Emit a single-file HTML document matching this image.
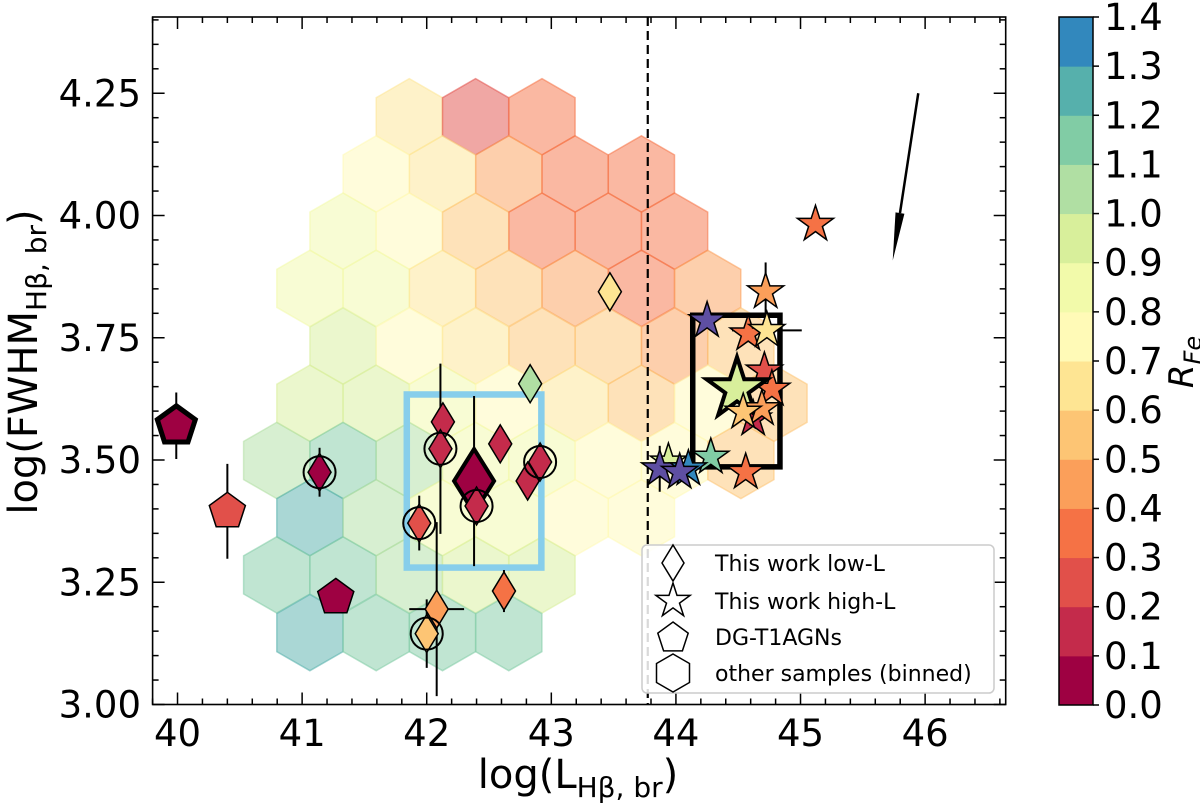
<!DOCTYPE html>
<html><head><meta charset="utf-8"><style>
html,body{margin:0;padding:0;background:#fff;}
svg{display:block;font-family:"DejaVu Sans","Liberation Sans",sans-serif;}
</style></head><body>
<svg id="chart" width="1200" height="804" viewBox="0 0 1200 804" xmlns="http://www.w3.org/2000/svg">
<g id="plot"></g>
<g id="axes"></g>
<g id="legend"></g>
<g id="cbar"></g>
</svg>
<script>
// ---- hexbin data (other samples, binned) ----
const hexCol = [4,6,8, 3,5,7,9,11, 2,4,6,8,10,12, 1,3,5,7,9,11,13, 2,4,6,8,10,12,14,
 1,3,5,7,9,11,13,15, 0,2,4,6,8,10,12,14, 1,3,5,7,9,11, 0,2,4,6,8, 1,3,5,7];
const hexY = [4.202,4.202,4.202, 4.085,4.085,4.085,4.085,4.085,
 3.968,3.968,3.968,3.968,3.968,3.968,
 3.851,3.851,3.851,3.851,3.851,3.851,3.851,
 3.733,3.733,3.733,3.733,3.733,3.733,3.733,
 3.616,3.616,3.616,3.616,3.616,3.616,3.616,3.616,
 3.499,3.499,3.499,3.499,3.499,3.499,3.499,3.499,
 3.382,3.382,3.382,3.382,3.382,3.382,
 3.265,3.265,3.265,3.265,3.265,
 3.147,3.147,3.147,3.147];
const hexV = [0.65,0.2,0.3, 0.75,0.6,0.45,0.3,0.3, 0.85,0.75,0.5,0.3,0.3,0.35,
 0.85,0.85,0.65,0.5,0.45,0.35,0.45, 0.95,0.75,0.65,0.55,0.55,0.45,0.55,
 0.9,0.95,0.8,0.75,0.65,0.55,0.75,0.5, 1.05,1.15,1.0,0.85,0.8,0.7,0.7,0.55,
 1.2,1.05,0.85,0.8,0.75,0.75, 1.15,1.1,1.05,0.95,0.9, 1.25,1.15,1.15,1.15];
const hexX0 = 40.796, hexDX = 0.2661;

// ---- low-L diamonds ----
const diaX = [42.83,42.13,42.11,42.59,42.38,42.40,42.81,42.91,41.94,41.14,42.62,42.08,42.00,43.47];
const diaY = [3.656,3.578,3.523,3.533,3.457,3.406,3.457,3.496,3.371,3.475,3.232,3.195,3.145,3.844];
const diaV = [1.0,0.1,0.1,0.1,0.02,0.1,0.1,0.1,0.2,0.05,0.35,0.45,0.5,0.65];
const diaYerr = [0,0,0.174,0,0.174,0,0,0.036,0.056,0.05,0.043,0.178,0.07,0];
const diaXerr = [0,0,0,0,0,0,0,0,0,0,0,0.22,0,0];
const diaCircled = [0,0,1,0,0,1,0,1,1,1,0,0,1,0];
const diaBig = [0,0,0,0,1,0,0,0,0,0,0,0,0,0];

// ---- DG-T1AGN pentagons ----
const penX = [39.99,40.40,41.27];
const penY = [3.570,3.395,3.219];
const penV = [0.05,0.2,0.05];
const penYerr = [0.068,0.097,0];
const penBig = [1,0,0];

// ---- high-L stars ----
const starX = [44.62,45.12,44.25,44.72,44.58,44.73,44.71,44.77,44.49,44.69,44.54,44.28,44.56,43.94,43.87,44.10,44.03];
const starY = [3.584,3.982,3.785,3.844,3.758,3.765,3.682,3.645,3.645,3.605,3.598,3.506,3.475,3.496,3.482,3.482,3.475];
const starV = [0.1,0.3,1.6,0.45,0.35,0.65,0.2,0.35,0.95,0.45,0.5,1.15,0.3,0.95,1.6,1.4,1.6];
const starYerr = [0,0,0,0.06,0,0,0,0,0,0,0,0,0,0,0.047,0,0];
const starXerr = [0,0,0,0,0,0.28,0,0,0,0,0,0,0,0,0,0,0];
const starBig = [0,0,0,0,0,0,0,0,1,0,0,0,0,0,0,0,0];

// ---- annotations ----
const blueBox = [41.84,42.92,3.280,3.634];
const blackBox = [44.135,44.835,3.486,3.796];
const dashX = 43.774;
const arrowFrom = [45.945,4.250], arrowTo = [45.740,3.908];

const xTicks = [40,41,42,43,44,45,46];
const yTicks = [3.00,3.25,3.50,3.75,4.00,4.25];
const cbTicks = [0.0,0.1,0.2,0.3,0.4,0.5,0.6,0.7,0.8,0.9,1.0,1.1,1.2,1.3,1.4];

const L=152.6,R=1005.7,T=17,B=704.5;
const xs = v => L + (v-39.8)*124.6;
const ys = v => B - (v-3)*489;
const NS="http://www.w3.org/2000/svg";
function mk(tag, attrs, parent){const e=document.createElementNS(NS,tag);for(const k in attrs)e.setAttribute(k,attrs[k]);parent.appendChild(e);return e;}

const stops=[[0,[158,1,66]],[0.1,[213,62,79]],[0.2,[244,109,67]],[0.3,[253,174,97]],[0.4,[254,224,139]],[0.5,[255,255,191]],[0.6,[230,245,152]],[0.7,[171,221,164]],[0.8,[102,194,165]],[0.9,[50,136,189]],[1.0,[94,79,162]]];
function spectral(t){t=Math.max(0,Math.min(1,t));for(let i=0;i<stops.length-1;i++){const a=stops[i],b=stops[i+1];if(t<=b[0]){const f=(t-a[0])/(b[0]-a[0]);const c=a[1].map((v,j)=>Math.round(v+(b[1][j]-v)*f));return `rgb(${c[0]},${c[1]},${c[2]})`;}}return 'rgb(94,79,162)';}
function colorOf(v){ if(v>=1.4) return v>1.45?'rgb(94,79,162)':spectral(0.9); const b=Math.min(13,Math.floor(v*10+1e-9)); return spectral(0.9*b/13);}

const plot=document.getElementById('plot'), axes=document.getElementById('axes');
const cp=mk('clipPath',{id:'clip'},plot);
mk('rect',{x:L,y:T,width:R-L,height:B-T},cp);
const g=mk('g',{'clip-path':'url(#clip)'},plot);

// hexes
const hr=38.13, hw=33.1;
for(let i=0;i<hexV.length;i++){
  const cx=xs(hexX0+hexDX*hexCol[i]), cy=ys(hexY[i]);
  const pts=[[0,-hr],[hw,-hr/2],[hw,hr/2],[0,hr],[-hw,hr/2],[-hw,-hr/2]].map(p=>(cx+p[0]).toFixed(1)+','+(cy+p[1]).toFixed(1)).join(' ');
  const c=colorOf(hexV[i]);
  const h=mk('polygon',{points:pts,fill:c,'fill-opacity':0.5,stroke:c,'stroke-opacity':0.55,'stroke-width':1.5},g);
  
  
}
// blue box
const bb=mk('rect',{x:xs(blueBox[0]),y:ys(blueBox[3]),width:xs(blueBox[1])-xs(blueBox[0]),height:ys(blueBox[2])-ys(blueBox[3]),fill:'none',stroke:'#87ceeb','stroke-width':6.5},g);


const dl=mk('line',{x1:xs(dashX),x2:xs(dashX),y1:T,y2:B,stroke:'#000','stroke-width':2.2,'stroke-dasharray':'9,5'},g);


const kb=mk('rect',{x:xs(blackBox[0]),y:ys(blackBox[3]),width:xs(blackBox[1])-xs(blackBox[0]),height:ys(blackBox[2])-ys(blackBox[3]),fill:'none',stroke:'#000','stroke-width':5.5},g);



function errbar(x,y,xe,ye){
  if(ye>0){const l=mk('line',{x1:xs(x),x2:xs(x),y1:ys(y-ye),y2:ys(y+ye),stroke:'#000','stroke-width':2},g);}
  if(xe>0){const l=mk('line',{x1:xs(x-xe),x2:xs(x+xe),y1:ys(y),y2:ys(y),stroke:'#000','stroke-width':2},g);}
}
function star(cx,cy,r){let p=[];for(let k=0;k<10;k++){const rr=k%2?r*0.382:r;const a=-Math.PI/2+k*Math.PI/5;p.push((cx+rr*Math.cos(a)).toFixed(1)+','+(cy+rr*Math.sin(a)).toFixed(1));}return p.join(' ');}
function poly(cx,cy,r,n,rot){let p=[];for(let k=0;k<n;k++){const a=rot+k*2*Math.PI/n;p.push((cx+r*Math.cos(a)).toFixed(1)+','+(cy+r*Math.sin(a)).toFixed(1));}return p.join(' ');}
function diamond(cx,cy,w,h){return `${cx},${cy-h} ${cx+w},${cy} ${cx},${cy+h} ${cx-w},${cy}`;}

// pentagons
for(let i=0;i<penX.length;i++){
  errbar(penX[i],penY[i],0,penYerr[i]);
  const big=penBig[i];
  const p=mk('polygon',{points:poly(xs(penX[i]),ys(penY[i]),big?20:19,5,-Math.PI/2),fill:colorOf(penV[i]),stroke:'#000','stroke-width':big?5:1.5},g);
  
  
}
// diamonds
for(let i=0;i<diaX.length;i++) errbar(diaX[i],diaY[i],diaXerr[i],diaYerr[i]);
for(let i=0;i<diaX.length;i++){
  const big=diaBig[i];
  const d=mk('polygon',{points:diamond(xs(diaX[i]),ys(diaY[i]),big?20:11.5,big?32:19),fill:colorOf(diaV[i]),stroke:'#000','stroke-width':big?4:1.5},g);
  
  
  if(diaCircled[i]){
    const c=mk('circle',{cx:xs(diaX[i]),cy:ys(diaY[i]),r:16,fill:'none',stroke:'#000','stroke-width':2},g);
    
    
  }
}
// stars
for(let i=0;i<starX.length;i++) errbar(starX[i],starY[i],starXerr[i],starYerr[i]);
for(let i=0;i<starX.length;i++){
  const big=starBig[i];
  const s=mk('polygon',{points:star(xs(starX[i]),ys(starY[i]),big?32:19),fill:colorOf(starV[i]),stroke:'#000','stroke-width':big?4:1.5,'stroke-linejoin':'miter'},g);
  
  
}
// arrow
{
  const x1=xs(arrowFrom[0]),y1=ys(arrowFrom[1]),x2=xs(arrowTo[0]),y2=ys(arrowTo[1]);
  const dx=x2-x1,dy=y2-y1,len=Math.hypot(dx,dy),ux=dx/len,uy=dy/len,nx=-uy,ny=ux;
  const hl=48,hw2=4.5;const bx=x2-ux*hl,by=y2-uy*hl;
  const a=mk('g',{},g);
  
  
  mk('line',{x1:x1,y1:y1,x2:bx,y2:by,stroke:'#000','stroke-width':2.5},a);
  mk('polygon',{points:`${x2},${y2} ${bx+nx*hw2},${by+ny*hw2} ${bx-nx*hw2},${by-ny*hw2}`,fill:'#000'},a);
}

// axes frame and ticks
const fr=mk('rect',{x:L,y:T,width:R-L,height:B-T,fill:'none',stroke:'#000','stroke-width':1.6},axes);


for(let v=39.8;v<=46.65;v+=0.2){
  const x=xs(v);const maj=Math.abs(v-Math.round(v))<0.01;const tl=maj?12:6;
  mk('line',{x1:x,x2:x,y1:B,y2:B-tl,stroke:'#000','stroke-width':1.5},axes);
  mk('line',{x1:x,x2:x,y1:T,y2:T+tl,stroke:'#000','stroke-width':1.5},axes);
}
for(let k=0;k<=28;k++){
  const v=3+k*0.05;const y=ys(v);const maj=k%5==0;const tl=maj?12:6;
  mk('line',{x1:L,x2:L+tl,y1:y,y2:y,stroke:'#000','stroke-width':1.5},axes);
  mk('line',{x1:R,x2:R-tl,y1:y,y2:y,stroke:'#000','stroke-width':1.5},axes);
}
xTicks.forEach(v=>{
  const t=mk('text',{x:xs(v),y:746,'font-size':37,'text-anchor':'middle'},axes);t.textContent=String(v);
  
  
});
yTicks.forEach(v=>{
  const t=mk('text',{x:141,y:ys(v)+13,'font-size':37,'text-anchor':'end'},axes);t.textContent=v.toFixed(2);
  
  
});
// axis titles
const xt=mk('text',{x:578,y:788,'font-size':40,'text-anchor':'middle'},axes);


xt.innerHTML='log(L<tspan font-size="28" dy="9">Hβ, br</tspan><tspan dy="-9">)</tspan>';
const yt=mk('text',{x:0,y:0,'font-size':40,'text-anchor':'middle',transform:'translate(37,362) rotate(-90)'},axes);


yt.innerHTML='log(FWHM<tspan font-size="28" dy="9">Hβ, br</tspan><tspan dy="-9">)</tspan>';

// legend
const lg=document.getElementById('legend');
const lb=mk('rect',{x:642,y:545,width:352,height:148,rx:5,fill:'#fff','fill-opacity':0.85,stroke:'#ccc','stroke-width':1.5},lg);


const legItems=[['This work low-L','diamond',563],['This work high-L','star',601],['DG-T1AGNs','pentagon',637],['other samples (binned)','hexagon',673]];
legItems.forEach(it=>{
  const gi=mk('g',{},lg);
  
  
  const y=it[2],x=673;let pts;
  if(it[1]=='diamond')pts=diamond(x,y,11,18);else if(it[1]=='star')pts=star(x,y,18);else if(it[1]=='pentagon')pts=poly(x,y+1,16,5,-Math.PI/2);else pts=poly(x,y,19,6,-Math.PI/2);
  mk('polygon',{points:pts,fill:'#fff','fill-opacity':it[1]=='diamond'?1:0,stroke:'#000','stroke-width':1.5},gi);
  const t=mk('text',{x:715,y:y+8,'font-size':22},gi);t.textContent=it[0];
});

// colorbar
const cb=document.getElementById('cbar');
const cx0=1059,cx1=1093,cyT=17,cyB=705;const step=(cyB-cyT)/14;
for(let b=0;b<14;b++){
  const r=mk('rect',{x:cx0,y:cyB-(b+1)*step,width:cx1-cx0,height:step+0.5,fill:spectral(0.9*b/13)},cb);
  
  
}
mk('rect',{x:cx0,y:cyT,width:cx1-cx0,height:cyB-cyT,fill:'none',stroke:'#000','stroke-width':1.5},cb);
cbTicks.forEach((v,i)=>{
  const y=cyB-i*step;
  mk('line',{x1:cx1,x2:cx1+6,y1:y,y2:y,stroke:'#000','stroke-width':1.5},cb);
  const t=mk('text',{x:1104,y:y+13,'font-size':37},cb);t.textContent=v.toFixed(1);
  
  
});
const ct=mk('text',{x:0,y:0,'font-size':34,'font-style':'italic','text-anchor':'middle',transform:'translate(1193,362) rotate(-90)'},cb);


ct.innerHTML='R<tspan font-size="24" dy="8">Fe</tspan>';
</script>
</body></html>
